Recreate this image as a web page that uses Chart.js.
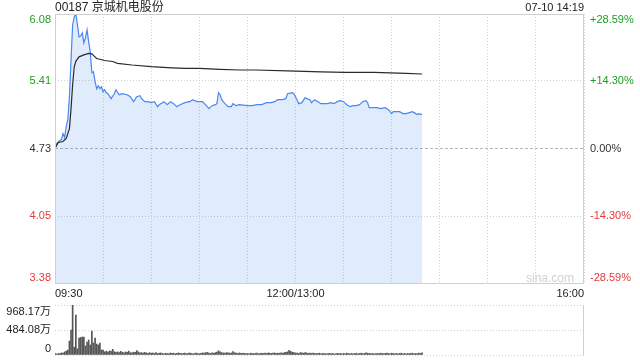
<!DOCTYPE html>
<html><head><meta charset="utf-8">
<script src="https://cdn.jsdelivr.net/npm/chart.js@4.4.1/dist/chart.umd.min.js"></script>
<style>
html,body{margin:0;padding:0;background:#fff;}
#wrap{position:relative;width:640px;height:360px;overflow:hidden;}
canvas{position:absolute;left:0;top:0;}
</style></head><body>
<div id="wrap">
<canvas id="main" width="640" height="360"></canvas>
<canvas id="vol" width="640" height="360"></canvas>
</div>
<script>
const titleText = '00187 京城机电股份';
const dateText = '07-10 14:19';
const watermark = 'sina.com';
const prevClose = 4.73;

const priceTicks = [3.38, 4.05, 4.73, 5.41, 6.08];
const pctLabels = ['-28.59%', '-14.30%', '0.00%', '+14.30%', '+28.59%'];
const timeTickValues = [0, 150, 330];
const timeTickLabels = ['09:30', '12:00/13:00', '16:00'];
const volTicks = [0, 484.08, 968.17];
const volLabels = ['0', '484.08万', '968.17万'];

// minutes from 09:30 (trading minutes, lunch break removed)
const priceTimes = [0,1,3,4,5,6,7,8,9,10,11,12,13,14,15,16,17,18,19,20,21,22,23,24,25,26,27,28,29,30,31,32,33,35,37,38,40,42,45,47,49,51,53,54,56,58,60,62,64,65,68,70,72,74,76,78,81,84,86,87,89,92,95,96,98,100,101,102,103,104,106,108,110,111,113,115,120,123,126,129,132,135,137,139,142,144,145,148,149,151,152,154,156,157,159,160,162,164,166,170,172,174,176,178,180,182,184,186,188,190,192,194,195,196,199,201,203,206,208,210,211,213,215,217,219,221,223,225,226,227,229];
const priceValues = [4.73,4.78,4.81,4.82,4.88,4.84,4.95,5.02,5.25,5.62,5.97,6.05,6.08,5.97,5.85,5.86,5.89,5.79,5.84,5.92,5.80,5.70,5.49,5.50,5.40,5.33,5.36,5.33,5.35,5.30,5.32,5.29,5.28,5.23,5.28,5.32,5.27,5.28,5.27,5.25,5.20,5.25,5.26,5.23,5.20,5.20,5.19,5.20,5.15,5.17,5.20,5.17,5.20,5.18,5.15,5.17,5.19,5.20,5.22,5.21,5.20,5.20,5.15,5.13,5.16,5.17,5.18,5.29,5.27,5.22,5.18,5.15,5.15,5.18,5.16,5.17,5.16,5.16,5.17,5.17,5.19,5.19,5.20,5.22,5.22,5.23,5.28,5.29,5.28,5.22,5.18,5.19,5.24,5.23,5.22,5.19,5.22,5.20,5.18,5.18,5.19,5.18,5.20,5.21,5.20,5.17,5.15,5.16,5.16,5.17,5.20,5.21,5.19,5.14,5.14,5.14,5.13,5.14,5.12,5.08,5.10,5.10,5.10,5.08,5.08,5.09,5.10,5.08,5.07,5.08,5.07];

const avgTimes = [0,2,5,7,9,10,11,12,13,15,18,21,23,24,26,31,36,39,48,60,73,81,90,103,115,125,145,166,181,199,219,229];
const avgValues = [4.73,4.79,4.80,4.83,4.93,5.13,5.37,5.55,5.605,5.65,5.67,5.685,5.68,5.665,5.633,5.613,5.603,5.585,5.568,5.551,5.54,5.535,5.535,5.525,5.518,5.518,5.51,5.50,5.495,5.495,5.485,5.478];

// volume per minute (万), minute 0..229
const volumes = [
30,20,25,30,40,35,60,75,95,271,
484,968.17,150,774,120,329,340,348,348,174,
252,290,194,465,232,329,213,194,232,97,
97,60,75,55,80,70,110,65,50,60,
45,70,55,40,60,50,75,45,40,55,
50,85,60,40,45,35,50,40,30,45,
35,40,30,45,30,35,40,30,25,35,
30,25,40,30,35,25,30,40,30,25,
30,35,25,30,40,30,25,30,35,30,
25,30,40,35,45,50,35,30,40,35,
45,55,80,60,45,40,35,45,40,35,
40,65,45,35,30,40,30,35,30,25,
30,25,35,30,25,30,35,25,30,35,
30,35,30,40,35,30,35,40,30,35,
35,40,35,45,50,60,90,70,55,45,
40,35,30,45,40,35,45,40,30,35,
30,35,30,25,30,35,25,30,30,25,
25,30,25,30,25,20,30,25,30,25,
30,25,35,30,25,30,25,30,35,25,
30,35,25,30,40,35,30,25,30,25,
25,30,25,35,30,25,30,35,30,25,
35,30,25,30,25,30,35,25,30,25,
30,25,30,35,25,30,25,35,30,40
];

const FONT = '"Liberation Sans", Arial, "Noto Sans CJK SC", sans-serif';
const GREEN = '#1e9e1e', RED = '#e33b3b', DARK = '#333333';
const GRID = '#cfcfcf';

function colorFor(v){ return v > prevClose + 1e-9 ? GREEN : (v < prevClose - 1e-9 ? RED : DARK); }

const zeroSize = { afterFit(s){ if (s.isHorizontal()) s.height = 0; else s.width = 0; } };

const mainDeco = {
  id: 'mainDeco',
  beforeDatasetsDraw(chart){
    const {ctx, chartArea: a, scales: {y}} = chart;
    const py = Math.round(y.getPixelForValue(prevClose)) + 0.5;
    ctx.save();
    ctx.strokeStyle = '#b5b5b5'; ctx.lineWidth = 1; ctx.setLineDash([3, 2]);
    ctx.beginPath(); ctx.moveTo(a.left, py); ctx.lineTo(a.right, py); ctx.stroke();
    ctx.restore();
  },
  afterDraw(chart){
    const {ctx, chartArea: a, scales: {x, y}} = chart;
    ctx.save();
    ctx.strokeStyle = GRID; ctx.lineWidth = 1; ctx.setLineDash([]);
    ctx.strokeRect(a.left + 0.5, a.top + 0.5, a.right - a.left - 1, a.bottom - a.top);
    // watermark
    ctx.font = '12px ' + FONT; ctx.fillStyle = '#d2d2d2';
    ctx.textAlign = 'right'; ctx.textBaseline = 'alphabetic';
    ctx.fillText(watermark, a.right - 10, a.bottom - 1);
    // title & date
    ctx.fillStyle = '#222';
    ctx.font = '12px ' + FONT; ctx.textAlign = 'left';
    ctx.fillText(titleText, a.left, 11);
    ctx.font = '11px ' + FONT; ctx.textAlign = 'right';
    ctx.fillText(dateText, a.right, 11);
    // price and pct tick labels
    ctx.font = '11px ' + FONT; ctx.textBaseline = 'middle';
    priceTicks.forEach((v, i) => {
      let py = y.getPixelForValue(v);
      if (i === priceTicks.length - 1) py += 6;
      if (i === 0) py -= 5;
      ctx.fillStyle = colorFor(v);
      ctx.textAlign = 'right'; ctx.fillText(v.toFixed(2), a.left - 4, py);
      ctx.textAlign = 'left'; ctx.fillText(pctLabels[i], a.right + 6, py);
    });
    // time labels
    ctx.fillStyle = '#222'; ctx.textBaseline = 'alphabetic';
    timeTickValues.forEach((t, i) => {
      const px = x.getPixelForValue(t);
      ctx.textAlign = i === 0 ? 'left' : (i === timeTickValues.length - 1 ? 'right' : 'center');
      ctx.fillText(timeTickLabels[i], px, a.bottom + 14);
    });
    ctx.restore();
  }
};

const volDeco = {
  id: 'volDeco',
  afterDraw(chart){
    const {ctx, chartArea: a, scales: {y}} = chart;
    ctx.save();
    ctx.strokeStyle = GRID; ctx.lineWidth = 1;
    ctx.beginPath(); ctx.moveTo(a.right - 0.5, a.top); ctx.lineTo(a.right - 0.5, a.bottom); ctx.stroke();
    ctx.font = '11px ' + FONT; ctx.textBaseline = 'middle'; ctx.textAlign = 'right'; ctx.fillStyle = '#222';
    volTicks.forEach((v, i) => {
      let py = y.getPixelForValue(v);
      if (i === volTicks.length - 1) py += 7;
      if (i === 0) py -= 6;
      ctx.fillText(volLabels[i], a.left - 4, py);
    });
    ctx.restore();
  }
};

new Chart(document.getElementById('main'), {
  type: 'line',
  data: {
    datasets: [
      { data: avgTimes.map((t, i) => ({x: t, y: avgValues[i]})), borderColor: '#2b2b2b', borderWidth: 1.2,
        pointRadius: 0, fill: false, tension: 0, order: 0 },
      { data: priceTimes.map((t, i) => ({x: t, y: priceValues[i]})), borderColor: '#4a87ee', borderWidth: 1.2,
        backgroundColor: 'rgba(74,137,239,0.17)', pointRadius: 0, fill: 'start', tension: 0, order: 1 }
    ]
  },
  options: {
    responsive: false, animation: false, events: [],
    layout: { padding: { left: 55, right: 56, top: 14, bottom: 77 } },
    plugins: { legend: { display: false }, tooltip: { enabled: false } },
    scales: {
      x: Object.assign({ type: 'linear', min: 0, max: 330,
        ticks: { display: false, stepSize: 30 },
        grid: { color: GRID, drawTicks: false, lineWidth: 1 },
        border: { display: false, dash: [1, 2] } }, zeroSize),
      y: Object.assign({ type: 'linear', min: priceTicks[0], max: priceTicks[priceTicks.length - 1],
        afterBuildTicks(s){ s.ticks = priceTicks.map(v => ({value: v})); },
        ticks: { display: false },
        grid: { color: c => (c.tick && Math.abs(c.tick.value - prevClose) < 1e-6) ? 'rgba(0,0,0,0)' : GRID, drawTicks: false },
        border: { display: false, dash: [1, 2] } }, zeroSize)
    }
  },
  plugins: [mainDeco]
});

new Chart(document.getElementById('vol'), {
  type: 'bar',
  data: {
    datasets: [{ data: volumes.map((v, i) => ({x: i, y: v})), backgroundColor: '#555555', barThickness: 1 }]
  },
  options: {
    responsive: false, animation: false, events: [],
    layout: { padding: { left: 55, right: 56, top: 305, bottom: 5 } },
    plugins: { legend: { display: false }, tooltip: { enabled: false } },
    scales: {
      x: Object.assign({ type: 'linear', min: 0, max: 330, offset: false,
        ticks: { display: false }, grid: { display: false }, border: { display: false } }, zeroSize),
      y: Object.assign({ type: 'linear', min: 0, max: volTicks[volTicks.length - 1],
        afterBuildTicks(s){ s.ticks = volTicks.map(v => ({value: v})); },
        ticks: { display: false },
        grid: { color: GRID, drawTicks: false },
        border: { display: false, dash: [1, 2] } }, zeroSize)
    }
  },
  plugins: [volDeco]
});
</script>
</body></html>
